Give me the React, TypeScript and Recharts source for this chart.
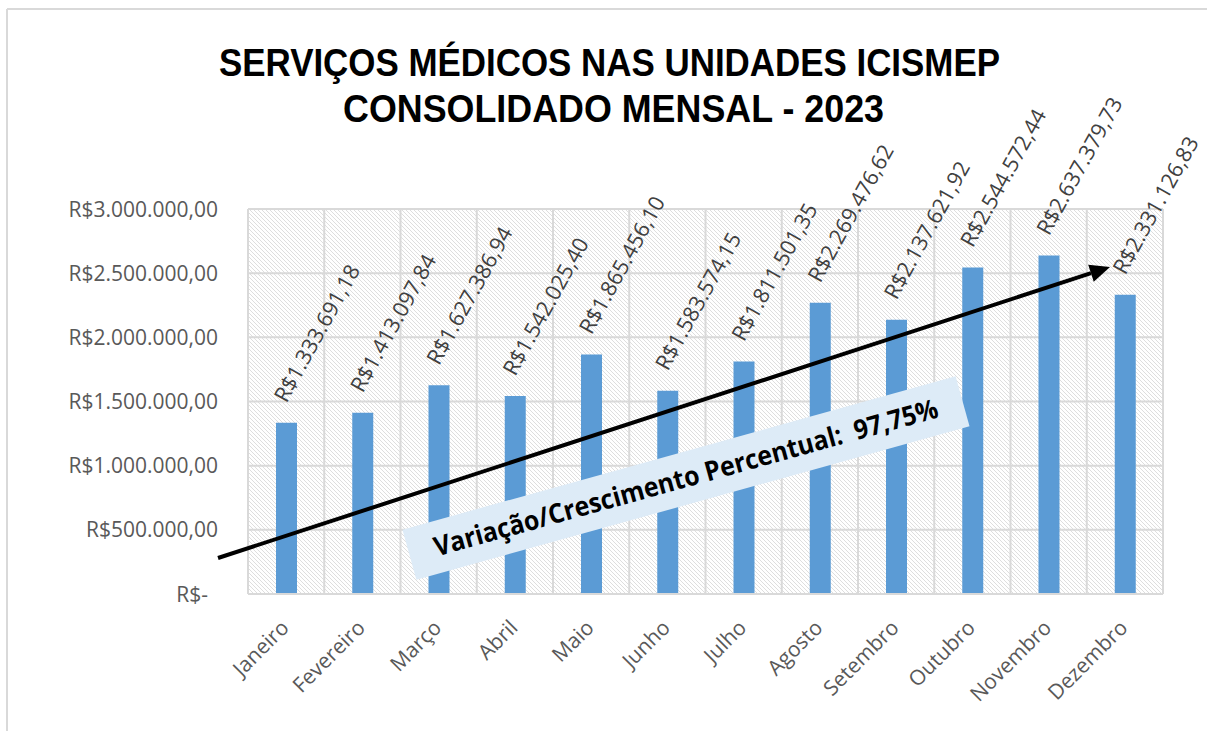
import { Bar, BarChart, CartesianGrid, LabelList, XAxis, YAxis } from "recharts";

const months = [
  "Janeiro", "Fevereiro", "Março", "Abril", "Maio", "Junho",
  "Julho", "Agosto", "Setembro", "Outubro", "Novembro", "Dezembro",
];
const totals = [
  1333691.18, 1413097.84, 1627386.94, 1542025.4, 1865456.1, 1583574.15,
  1811501.35, 2269476.62, 2137621.92, 2544572.44, 2637379.73, 2331126.83,
];
const yTicks = [0, 500000, 1000000, 1500000, 2000000, 2500000, 3000000];
const titleLines = ["SERVIÇOS MÉDICOS NAS UNIDADES ICISMEP", "CONSOLIDADO MENSAL - 2023"];
const growthLabel = "Variação/Crescimento Percentual:  97,75%";

const data = months.map((month, i) => ({ month, total: totals[i] }));

const FONT = "'Open Sans', 'DejaVu Sans', sans-serif";
const TITLE_FONT = "'Liberation Sans', Arial, sans-serif";

// R$1.234.567,89 ; zero shows as "R$-" like Excel's accounting format
function brl(v: number) {
  if (v === 0) return "R$-";
  const [int, dec] = v.toFixed(2).split(".");
  return "R$" + int.replace(/\B(?=(\d{3})+(?!\d))/g, ".") + "," + dec;
}

function YTick(props: any) {
  const { x, y, payload } = props;
  const zero = payload.value === 0;
  return (
    <text x={x - (zero ? 10 : 0)} y={y} dy={7.5} textAnchor="end" fill="#595959" fontSize={21} fontFamily={FONT}>
      {brl(payload.value)}
    </text>
  );
}

function XTick(props: any) {
  const { x, y, payload } = props;
  const px = x + 4;
  const py = y + 35;
  return (
    <text x={px} y={py} textAnchor="end" fill="#595959" fontSize={21} fontFamily={FONT} transform={`rotate(-45, ${px}, ${py})`}>
      {payload.value}
    </text>
  );
}

function ValueLabel(props: any) {
  const { x, y, width, value } = props;
  const px = x + width / 2;
  const py = y - 19;
  return (
    <text x={px} y={py} fill="#404040" fontSize={21.5} fontFamily={FONT} transform={`rotate(-61, ${px}, ${py})`}>
      {brl(value)}
    </text>
  );
}

function Overlay() {
  // trend arrow
  const x1 = 218, y1 = 558, x2 = 1110, y2 = 267;
  const len = Math.hypot(x2 - x1, y2 - y1);
  const ux = (x2 - x1) / len, uy = (y2 - y1) / len;
  const hl = 20, hw = 9;
  const bx = x2 - ux * hl, by = y2 - uy * hl;
  const head = `${x2},${y2} ${bx - uy * hw},${by + ux * hw} ${bx + uy * hw},${by - ux * hw}`;
  return (
    <svg width={1207} height={731} style={{ position: "absolute", left: 0, top: 0, pointerEvents: "none" }}>
      <line x1={7} y1={9} x2={7} y2={731} stroke="#d9d9d9" strokeWidth={2} />
      <line x1={7} y1={9} x2={1207} y2={9} stroke="#d9d9d9" strokeWidth={2} />
      <text x={219} y={76} fontSize={39} fontWeight={700} fontFamily={TITLE_FONT} fill="#000" textLength={781} lengthAdjust="spacingAndGlyphs">
        {titleLines[0]}
      </text>
      <text x={343} y={122} fontSize={39} fontWeight={700} fontFamily={TITLE_FONT} fill="#000" textLength={541} lengthAdjust="spacingAndGlyphs">
        {titleLines[1]}
      </text>
      <line x1={x1} y1={y1} x2={bx} y2={by} stroke="#000" strokeWidth={4} />
      <polygon points={head} fill="#000" />
      <g transform="translate(686,478) rotate(-15.5)">
        <rect x={-287} y={-26} width={574} height={52} fill="#DDEBF7" />
        <text x={-261} y={9} fontSize={27} fontWeight={700} fontFamily={FONT} fill="#000" textLength={522} lengthAdjust="spacingAndGlyphs" style={{ whiteSpace: "pre" }}>
          {growthLabel}
        </text>
      </g>
    </svg>
  );
}

export default function App() {
  return (
    <div style={{ position: "absolute", left: 0, top: 0, width: 1207, height: 731, overflow: "hidden", background: "#fff" }}>
      <svg width={0} height={0} style={{ position: "absolute" }}>
        <defs>
          <pattern id="hatch" patternUnits="userSpaceOnUse" width={4} height={4}>
            <rect width={4} height={4} fill="#ffffff" />
            <path d="M-1,-1 L5,5 M-1,3 L1,5 M3,-1 L5,1" stroke="#dedede" strokeWidth={1} />
          </pattern>
        </defs>
      </svg>
      <BarChart width={1207} height={731} data={data} margin={{ top: 209, right: 44, bottom: 107, left: 8 }}>
        <CartesianGrid
          fill="url(#hatch)"
          fillOpacity={1}
          stroke="#d9d9d9"
          strokeWidth={2}
          verticalCoordinatesGenerator={({ offset }: any) =>
            months.map((_, i) => offset.left + (i * offset.width) / months.length).concat(offset.left + offset.width)
          }
        />
        <XAxis
          dataKey="month"
          interval={0}
          height={30}
          tickLine={false}
          tickSize={0}
          tickMargin={0}
          axisLine={{ stroke: "#d9d9d9", strokeWidth: 2 }}
          tick={<XTick />}
        />
        <YAxis
          width={240}
          domain={[0, 3000000]}
          ticks={yTicks}
          axisLine={false}
          tickLine={false}
          tickSize={0}
          tickMargin={30}
          tick={<YTick />}
        />
        <Bar dataKey="total" fill="#5B9BD5" barSize={21} isAnimationActive={false}>
          <LabelList dataKey="total" content={<ValueLabel />} />
        </Bar>
      </BarChart>
      <Overlay />
    </div>
  );
}
